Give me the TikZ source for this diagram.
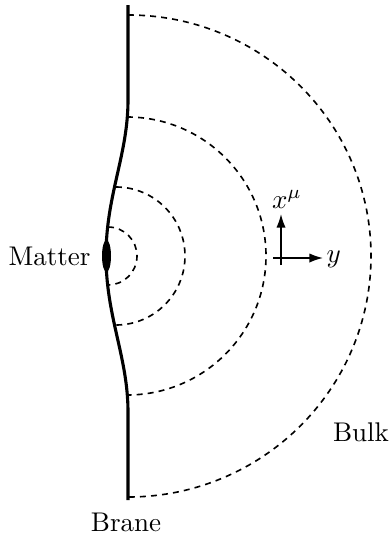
\documentclass[tikz,border=0pt]{standalone}
\usetikzlibrary{arrows.meta}
\begin{document}
\begin{tikzpicture}[x=0.37pt,y=-0.37pt,
  brane/.style={line width=1.15pt},
  field/.style={line width=0.6pt,dash pattern=on 2.2pt off 1.9pt},
  axis/.style={line width=0.55pt,-{Latex[length=5pt,width=3.4pt]}},
  lbl/.style={inner sep=0pt,anchor=base}]
\useasboundingbox (0,0) rectangle (390,541);
% brane points
\coordinate (top) at (128,5);
\coordinate (bt) at (128,100);
\coordinate (mid) at (106,256);
\coordinate (bb) at (128,412);
\coordinate (bot) at (128,500);
\coordinate (p1) at (108,227);
\coordinate (p2) at (116,187);
\coordinate (p3) at (127,117);
\coordinate (p4) at (128,15);
% field lines
\draw[field] (p1) arc[start angle=-90,end angle=90,radius=29];
\draw[field] (p2) arc[start angle=-90,end angle=90,radius=69];
\draw[field] (p3) arc[start angle=-90,end angle=90,radius=139];
\draw[field] (p4) arc[start angle=-90,end angle=90,x radius=243,y radius=241];
% brane
\draw[brane] (top) -- (bt) .. controls (128,155) and (106,195) .. (mid)
  .. controls (106,317) and (128,357) .. (bb) -- (bot);
% matter
\fill (106.5,256) ellipse[x radius=4.5,y radius=16];
\node[lbl,anchor=base east] (matter) at (91,265) {Matter};
\node[lbl] (brane) at (126,531) {Brane};
\node[lbl] (bulk) at (361,441) {Bulk};
% axes
\coordinate (o1) at (281,265);
\coordinate (o2) at (281,214);
\coordinate (h1) at (273,258);
\coordinate (h2) at (323,258);
\draw[axis] (o1) -- (o2);
\draw[axis] (h1) -- (h2);
\node[lbl] (xmu) at (287,208) {$x^\mu$};
\node[lbl,anchor=base west] (ylab) at (326,262) {$y$};
\end{tikzpicture}
\end{document}
